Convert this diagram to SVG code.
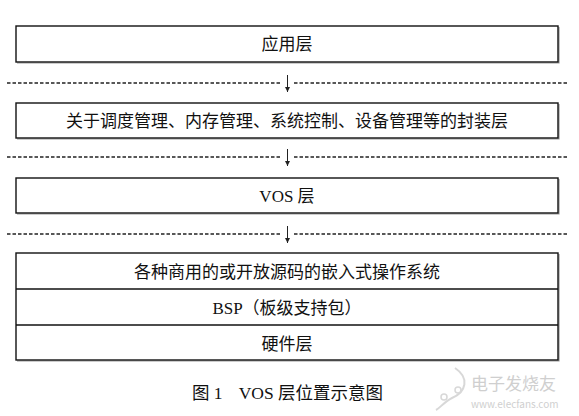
<svg xmlns="http://www.w3.org/2000/svg" width="579" height="416" viewBox="0 0 579 416">
<style>
.box{fill:#fff;stroke:#111;stroke-width:1.4}
.shadow{fill:none;stroke:#999;stroke-width:1.2}
.div{stroke:#111;stroke-width:1.4}
.dash{stroke:#222;stroke-width:1.4;stroke-dasharray:3.5 2}
.arr{stroke:#222;stroke-width:1;fill:none}
.t{font-family:"Liberation Serif","Noto Sans CJK SC",serif;font-size:17px;fill:#111;text-anchor:middle}
.cap{font-family:"Liberation Serif","Noto Sans CJK SC",serif;font-size:17.5px;fill:#111}
.wm{font-family:"Noto Sans CJK SC",sans-serif;fill:#cfcfcf}
</style>
<defs>
<marker id="ah" viewBox="0 0 6 6" refX="6" refY="3" markerWidth="5" markerHeight="5" orient="auto" markerUnits="userSpaceOnUse">
<path d="M0,0 L6,3 L0,6 Z" fill="#222"/>
</marker>
</defs>
<g id="connectors">
<line class="dash" x1="7" y1="83" x2="282" y2="83"/>
<line class="dash" x1="294" y1="83" x2="568" y2="83"/>
<line class="arr" x1="287.5" y1="75" x2="287.5" y2="92" marker-end="url(#ah)"/>
<line class="dash" x1="7" y1="157" x2="282" y2="157"/>
<line class="dash" x1="294" y1="157" x2="568" y2="157"/>
<line class="arr" x1="287.5" y1="149" x2="287.5" y2="166" marker-end="url(#ah)"/>
<line class="dash" x1="7" y1="234" x2="282" y2="234"/>
<line class="dash" x1="294" y1="234" x2="568" y2="234"/>
<line class="arr" x1="287.5" y1="226" x2="287.5" y2="243" marker-end="url(#ah)"/>
</g>
<g id="app">
<polyline class="shadow" points="559,27 559,63 17,63"/>
<rect class="box" x="16" y="26" width="542" height="36"/>
<text class="t" x="287" y="50">应用层</text>
</g>
<g id="wrap">
<polyline class="shadow" points="559,104 559,139 17,139"/>
<rect class="box" x="16" y="103" width="542" height="35"/>
<text class="t" x="287" y="126.5">关于调度管理、内存管理、系统控制、设备管理等的封装层</text>
</g>
<g id="vos">
<polyline class="shadow" points="559,179 559,214 17,214"/>
<rect class="box" x="16" y="178" width="542" height="35"/>
<text class="t" x="287" y="201.5">VOS 层</text>
</g>
<g id="stack">
<polyline class="shadow" points="559,254 559,361 17,361"/>
<rect class="box" x="16" y="253" width="542" height="107"/>
<line class="div" x1="16" y1="289" x2="558" y2="289"/>
<line class="div" x1="16" y1="325" x2="558" y2="325"/>
</g>
<g id="os"><text class="t" x="287" y="277.5">各种商用的或开放源码的嵌入式操作系统</text></g>
<g id="bsp"><text class="t" x="287" y="313.5">BSP（板级支持包）</text></g>
<g id="hw"><text class="t" x="287" y="349.5">硬件层</text></g>
<g id="caption"><text class="cap" x="192" y="399">图 1<tspan dx="16">VOS 层位置示意图</tspan></text></g>
<g id="watermark">
<path d="M455,368 C470,378 466,392 452,398 C444,402 440,408 436,410" fill="none" stroke="#d8d8d8" stroke-width="2"/>
<circle cx="444" cy="397" r="3" fill="none" stroke="#d8d8d8" stroke-width="1.5"/>
<circle cx="458" cy="390" r="3" fill="none" stroke="#d8d8d8" stroke-width="1.5"/>
<text class="wm" x="471" y="390" font-size="17">电子发烧友</text>
<text class="wm" x="471" y="408" font-size="10">www.elecfans.com</text>
</g>
</svg>
